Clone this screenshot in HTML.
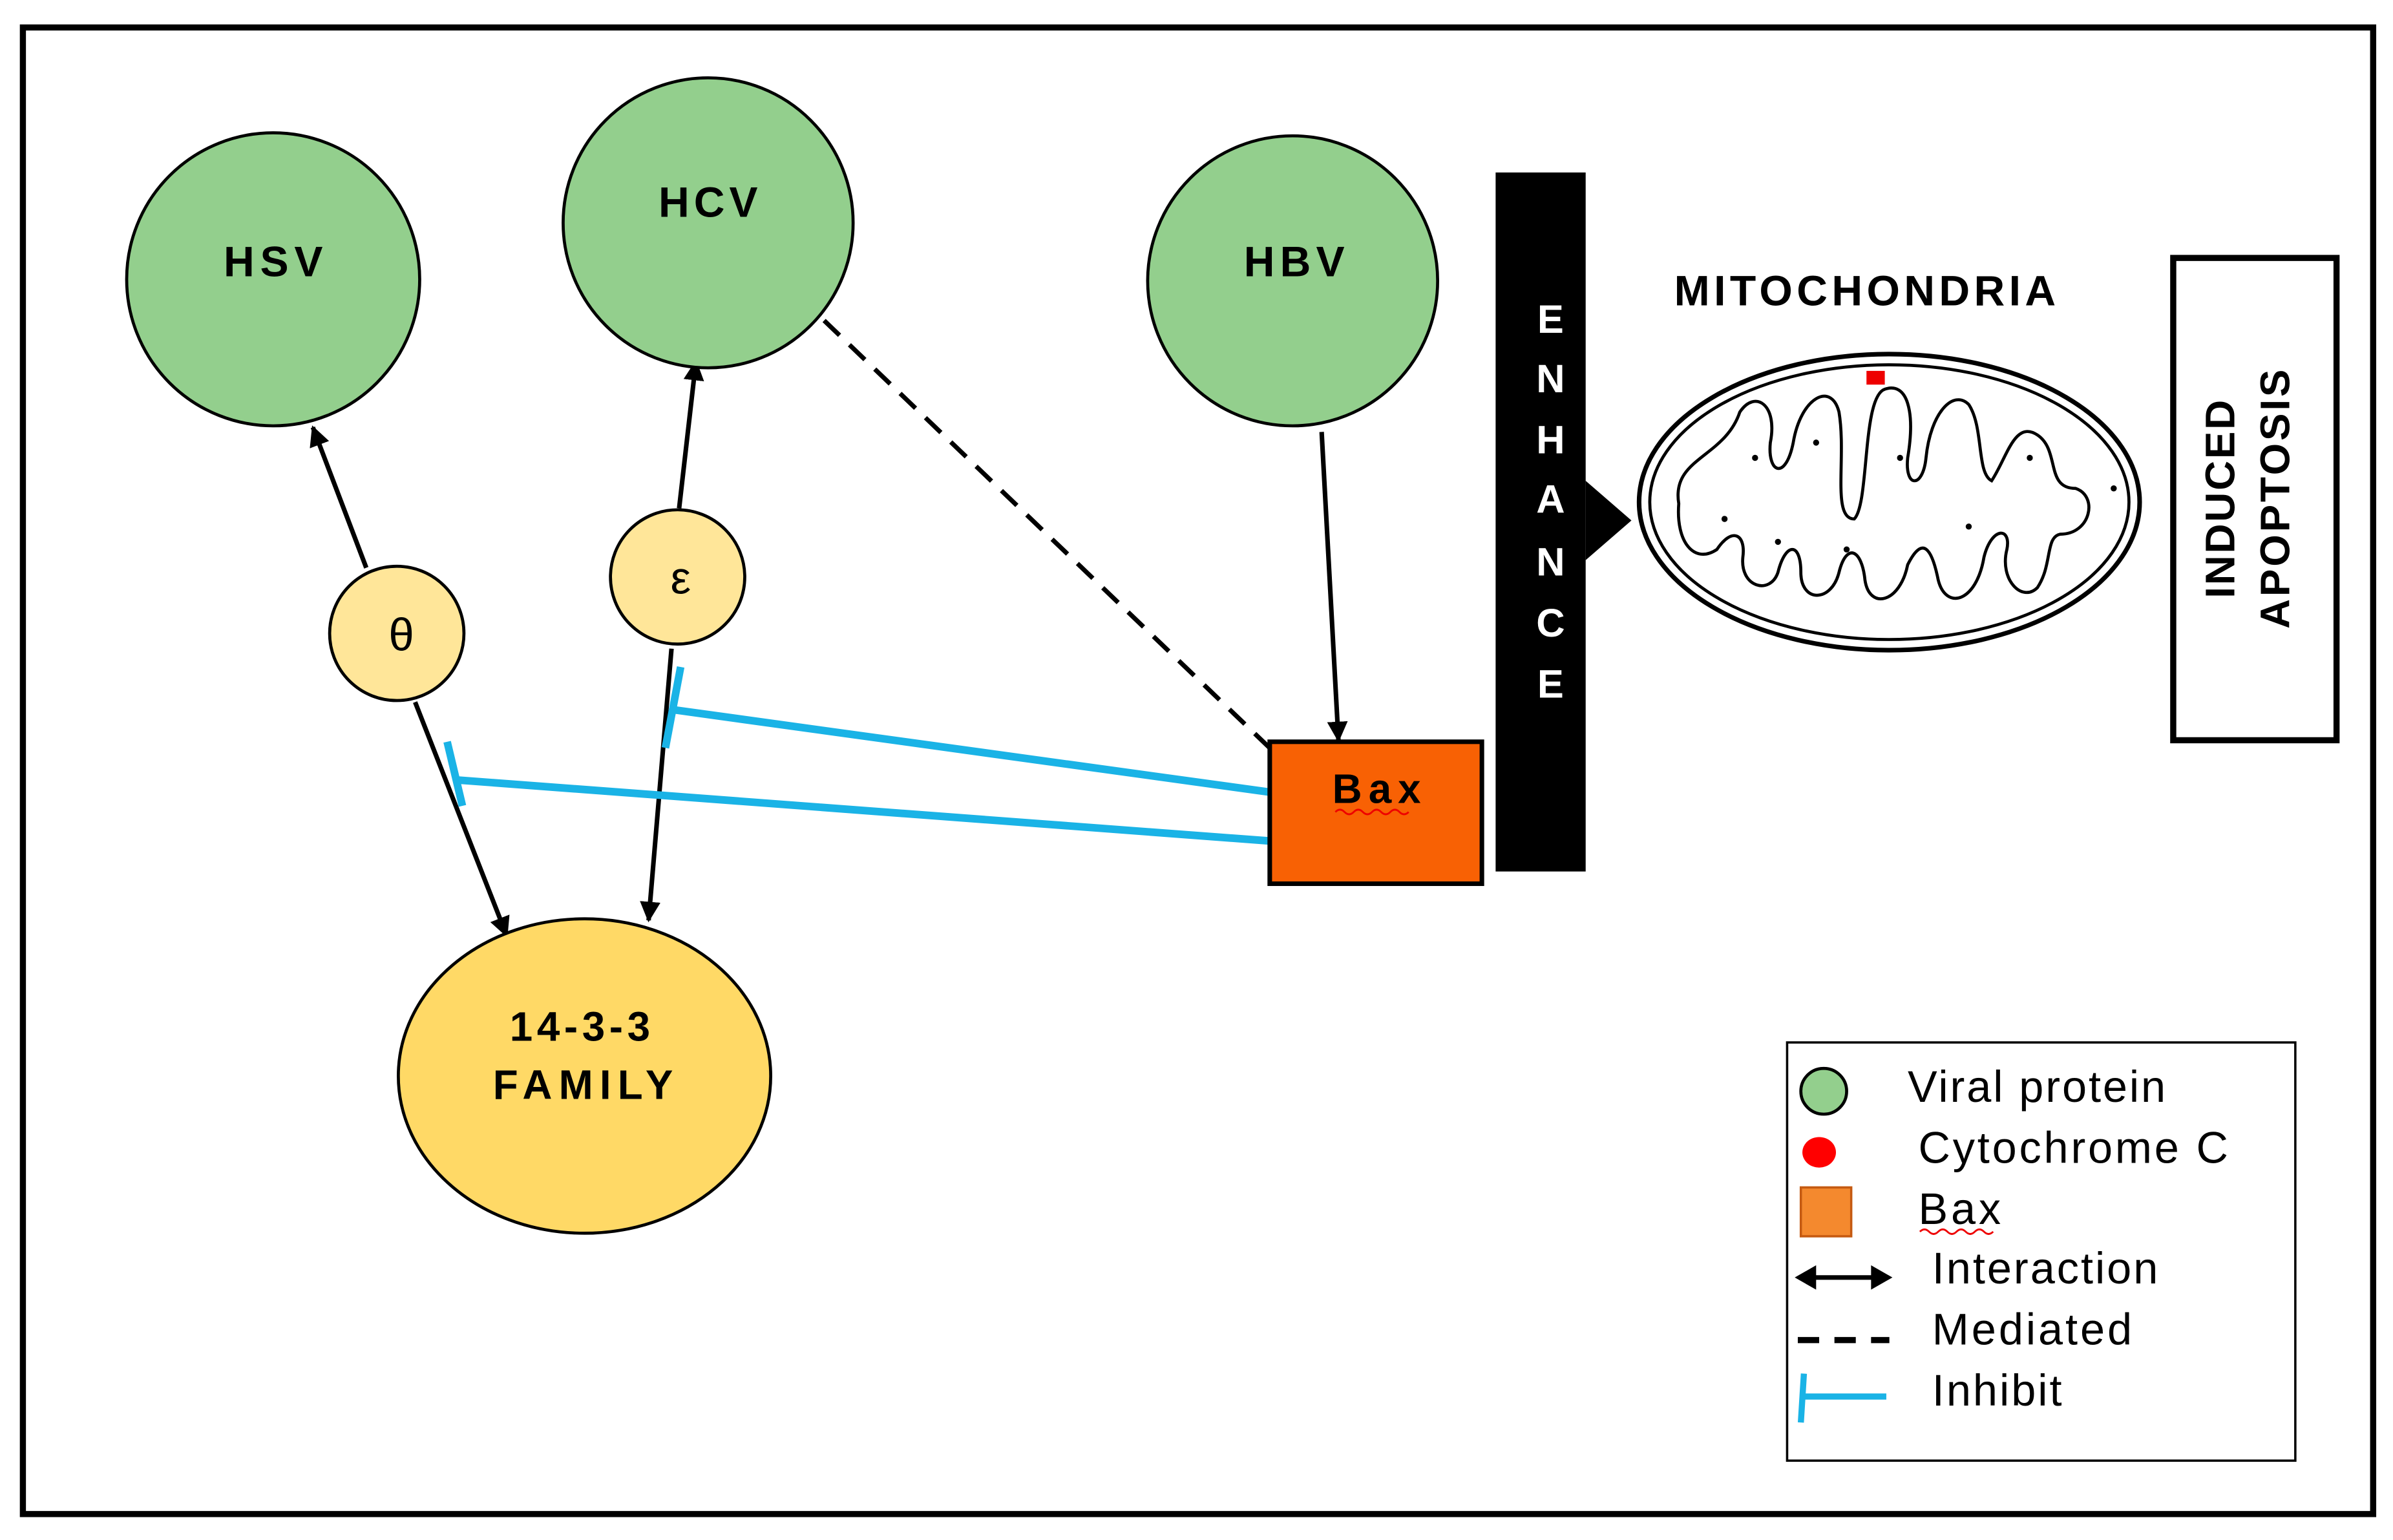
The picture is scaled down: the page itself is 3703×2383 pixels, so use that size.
<!DOCTYPE html>
<html><head><meta charset="utf-8"><style>
html,body{margin:0;padding:0;background:#fff}
svg{display:block}
text{font-family:"Liberation Sans",Arial,sans-serif}
</style></head><body>
<svg width="3703" height="2383" viewBox="0 0 1568 1009" preserveAspectRatio="none" xmlns="http://www.w3.org/2000/svg">
<defs>
<marker id="ah" viewBox="0 0 10 10" refX="9" refY="5" markerWidth="4.5" markerHeight="4.5" orient="auto"><path d="M0,0 L10,5 L0,10 z" fill="#000"/></marker>
</defs>
<rect x="0" y="0" width="1568" height="1009" fill="#fff"/>
<rect x="15" y="18" width="1540" height="974" fill="none" stroke="#000" stroke-width="4"/>

<line x1="540" y1="210" x2="834" y2="492" stroke="#000" stroke-width="3" stroke-dasharray="14,9"/>
<line x1="240" y1="372" x2="205" y2="280" stroke="#000" stroke-width="3" marker-end="url(#ah)"/>
<line x1="272" y1="460" x2="332" y2="613" stroke="#000" stroke-width="3" marker-end="url(#ah)"/>
<line x1="445" y1="333" x2="456" y2="237" stroke="#000" stroke-width="3" marker-end="url(#ah)"/>
<line x1="440" y1="425" x2="425" y2="603" stroke="#000" stroke-width="3" marker-end="url(#ah)"/>
<line x1="866" y1="283" x2="877" y2="485" stroke="#000" stroke-width="3" marker-end="url(#ah)"/>
<line x1="832" y1="519" x2="441" y2="465" stroke="#1ab3e6" stroke-width="5"/>
<line x1="446" y1="437" x2="436" y2="490" stroke="#1ab3e6" stroke-width="5"/>
<line x1="832" y1="551" x2="299" y2="511" stroke="#1ab3e6" stroke-width="5"/>
<line x1="293" y1="486" x2="303" y2="528" stroke="#1ab3e6" stroke-width="5"/>

<circle cx="179" cy="183" r="96" fill="#93cf8d" stroke="#000" stroke-width="2"/>
<circle cx="464" cy="146" r="95" fill="#93cf8d" stroke="#000" stroke-width="2"/>
<circle cx="847" cy="184" r="95" fill="#93cf8d" stroke="#000" stroke-width="2"/>
<text x="179" y="181" font-size="28" font-weight="bold" text-anchor="middle" textLength="65">HSV</text>
<text x="464" y="142" font-size="28" font-weight="bold" text-anchor="middle" textLength="65">HCV</text>
<text x="848" y="181" font-size="28" font-weight="bold" text-anchor="middle" textLength="66">HBV</text>
<circle cx="260" cy="415" r="44" fill="#ffe699" stroke="#000" stroke-width="2"/>
<circle cx="444" cy="378" r="44" fill="#ffe699" stroke="#000" stroke-width="2"/>
<text x="263" y="426" font-size="30" text-anchor="middle">θ</text>
<text x="446" y="389" font-size="30" text-anchor="middle">ε</text>
<ellipse cx="383" cy="705" rx="122" ry="103" fill="#ffd966" stroke="#000" stroke-width="2"/>
<text x="380" y="682" font-size="27" font-weight="bold" text-anchor="middle" textLength="92">14-3-3</text>
<text x="382" y="720" font-size="27" font-weight="bold" text-anchor="middle" textLength="118">FAMILY</text>
<rect x="832" y="486" width="139" height="93" fill="#f86104" stroke="#000" stroke-width="3"/>
<text x="902" y="526" font-size="27" font-weight="bold" text-anchor="middle" textLength="58">Bax</text>
<path d="M875,532 q3,-3 6,0 q3,3 6,0 q3,-3 6,0 q3,3 6,0 q3,-3 6,0 q3,3 6,0 q3,-3 6,0 q3,3 6,0" stroke="#e00" stroke-width="1.2" fill="none"/>

<rect x="980" y="113" width="59" height="458" fill="#000"/>
<polygon points="1039,315 1069,341 1039,367" fill="#000"/>
<g fill="#fff" font-size="26" font-weight="bold" text-anchor="middle">
<text x="1016" y="218">E</text><text x="1016" y="257">N</text><text x="1016" y="297">H</text>
<text x="1016" y="336">A</text><text x="1016" y="377">N</text><text x="1016" y="417">C</text><text x="1016" y="457">E</text>
</g>

<text x="1222" y="200" font-size="28" font-weight="bold" text-anchor="middle" textLength="250">MITOCHONDRIA</text>
<ellipse cx="1238" cy="329" rx="164" ry="97" fill="#fff" stroke="#000" stroke-width="3"/>
<ellipse cx="1238" cy="329" rx="157" ry="90" fill="none" stroke="#000" stroke-width="2"/>
<path d="M1100,330 C1095,300 1130,300 1140,270 C1150,255 1165,265 1160,290 C1158,310 1170,315 1175,290 C1180,260 1200,250 1205,270 C1210,300 1200,340 1215,340 C1225,330 1220,260 1235,255 C1250,250 1255,270 1250,300 C1248,320 1260,320 1262,300 C1265,270 1280,255 1290,265 C1300,280 1295,310 1305,315 C1315,300 1320,275 1335,285 C1350,295 1340,320 1360,320 C1375,325 1370,350 1350,350 C1340,352 1345,370 1335,385 C1325,395 1310,380 1315,360 C1318,345 1305,345 1300,365 C1295,395 1275,400 1270,380 C1266,360 1260,350 1250,370 C1245,395 1225,400 1222,380 C1220,360 1210,355 1205,375 C1200,395 1180,395 1180,375 C1180,355 1170,355 1165,375 C1160,390 1140,385 1142,365 C1144,350 1135,345 1125,360 C1110,370 1098,355 1100,330 Z" fill="none" stroke="#000" stroke-width="2"/>
<rect x="1223" y="243" width="12" height="9" fill="#e00"/>
<g fill="#000"><circle cx="1150" cy="300" r="2"/><circle cx="1190" cy="290" r="2"/><circle cx="1245" cy="300" r="2"/><circle cx="1330" cy="300" r="2"/><circle cx="1165" cy="355" r="2"/><circle cx="1210" cy="360" r="2"/><circle cx="1290" cy="345" r="2"/><circle cx="1130" cy="340" r="2"/><circle cx="1385" cy="320" r="2"/></g>

<rect x="1424" y="169" width="107" height="316" fill="#fff" stroke="#000" stroke-width="4"/>
<text transform="translate(1464,327) rotate(-90)" font-size="27" font-weight="bold" text-anchor="middle" textLength="130">INDUCED</text>
<text transform="translate(1500,327) rotate(-90)" font-size="27" font-weight="bold" text-anchor="middle" textLength="170">APOPTOSIS</text>

<rect x="1171" y="683" width="333" height="274" fill="#fff" stroke="#000" stroke-width="1.5"/>
<circle cx="1195" cy="715" r="15" fill="#93cf8d" stroke="#000" stroke-width="2"/>
<ellipse cx="1192" cy="755" rx="11" ry="10" fill="#f00"/>
<rect x="1180" y="778" width="33" height="32" fill="#f4892e" stroke="#c55a11" stroke-width="1.5"/>
<line x1="1180" y1="837" x2="1236" y2="837" stroke="#000" stroke-width="3"/>
<polygon points="1176,837 1190,829 1190,845" fill="#000"/><polygon points="1240,837 1226,829 1226,845" fill="#000"/>
<line x1="1178" y1="878" x2="1238" y2="878" stroke="#000" stroke-width="4" stroke-dasharray="14,10"/>
<line x1="1182" y1="915" x2="1236" y2="915" stroke="#1ab3e6" stroke-width="4"/>
<line x1="1182" y1="900" x2="1180" y2="932" stroke="#1ab3e6" stroke-width="4"/>
<g font-size="29" fill="#000">
<text x="1250" y="722" textLength="169">Viral protein</text>
<text x="1257" y="762" textLength="203">Cytochrome C</text>
<text x="1257" y="802" textLength="54">Bax</text>
<text x="1266" y="841" textLength="148">Interaction</text>
<text x="1266" y="881" textLength="131">Mediated</text>
<text x="1266" y="921" textLength="85">Inhibit</text>
</g>
<path d="M1258,807 q3,-3 6,0 q3,3 6,0 q3,-3 6,0 q3,3 6,0 q3,-3 6,0 q3,3 6,0 q3,-3 6,0 q3,3 6,0" stroke="#e00" stroke-width="1.2" fill="none"/>
</svg>
</body></html>
